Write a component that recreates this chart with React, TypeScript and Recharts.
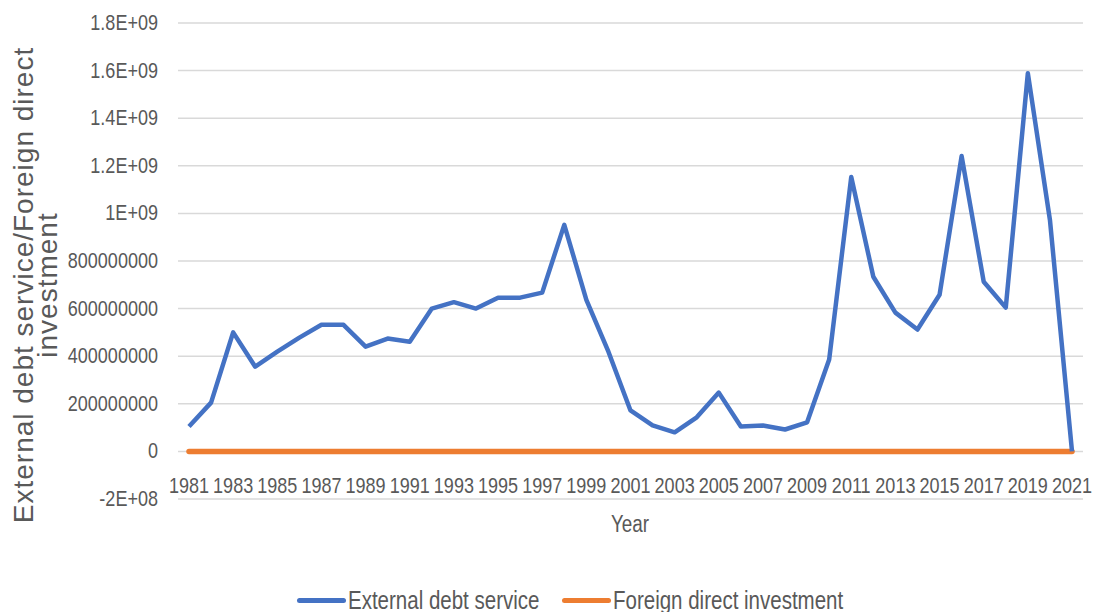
import React from 'react';
import {
  LineChart,
  Line,
  XAxis,
  YAxis,
  CartesianGrid,
  Label
} from 'recharts';

const years = [
  '1981', '1982', '1983', '1984', '1985', '1986', '1987', '1988', '1989', '1990',
  '1991', '1992', '1993', '1994', '1995', '1996', '1997', '1998', '1999', '2000',
  '2001', '2002', '2003', '2004', '2005', '2006', '2007', '2008', '2009', '2010',
  '2011', '2012', '2013', '2014', '2015', '2016', '2017', '2018', '2019', '2020',
  '2021'
];

const externalDebtService = [
  105e6, 205e6, 500e6, 356e6, 419e6, 478e6, 532e6, 532e6, 440e6, 474e6,
  461e6, 600e6, 627e6, 600e6, 646e6, 646e6, 667e6, 952e6, 637e6, 419e6,
  172e6, 109e6, 80e6, 143e6, 247e6, 105e6, 109e6, 92e6, 122e6, 386e6,
  1153e6, 734e6, 583e6, 512e6, 658e6, 1241e6, 713e6, 604e6, 1589e6, 973e6,
  0
];

const foreignDirectInvestment = [
  0, 0, 0, 0, 0, 0, 0, 0, 0, 0,
  0, 0, 0, 0, 0, 0, 0, 0, 0, 0,
  0, 0, 0, 0, 0, 0, 0, 0, 0, 0,
  0, 0, 0, 0, 0, 0, 0, 0, 0, 0,
  0
];

const yTicks = [-2e8, 0, 2e8, 4e8, 6e8, 8e8, 1e9, 1.2e9, 1.4e9, 1.6e9, 1.8e9];
const yTickLabels = [
  '-2E+08', '0', '200000000', '400000000', '600000000', '800000000',
  '1E+09', '1.2E+09', '1.4E+09', '1.6E+09', '1.8E+09'
];

const seriesNames = ['External debt service', 'Foreign direct investment'];
const seriesColors = ['#4472C4', '#ED7D31'];

const data = years.map((year, i) => ({
  year,
  debt: externalDebtService[i],
  fdi: foreignDirectInvestment[i]
}));

const sans = '"Liberation Sans", Arial, sans-serif';
const textColor = '#595959';
// the reference uses a narrow font; squeeze Liberation Sans horizontally
const squeeze = 0.82;

const XTick = (props: any) => {
  const { x, y, payload } = props;
  return (
    <text
      transform={`translate(${x},${y - 6}) scale(${squeeze},1)`}
      textAnchor="middle"
      fill={textColor}
      fontSize={22}
      fontFamily={sans}
    >
      {payload.value}
    </text>
  );
};

const YTick = (props: any) => {
  const { x, y, payload } = props;
  return (
    <text
      transform={`translate(${x},${y + 7}) scale(${squeeze},1)`}
      textAnchor="end"
      fill={textColor}
      fontSize={22}
      fontFamily={sans}
    >
      {yTickLabels[yTicks.indexOf(payload.value)]}
    </text>
  );
};

const YTitle = () => (
  <g fill={textColor} fontFamily={sans} fontSize={28} letterSpacing={1}>
    <text x={33} y={285} textAnchor="middle" transform="rotate(-90 33 285)">
      External debt service/Foreign direct
    </text>
    <text x={57} y={285} textAnchor="middle" transform="rotate(-90 57 285)">
      investment
    </text>
  </g>
);

const XTitle = () => (
  <text
    transform={`translate(630,532) scale(${squeeze},1)`}
    textAnchor="middle"
    fill={textColor}
    fontSize={23}
    fontFamily={sans}
  >
    Year
  </text>
);

const legendLeft = [297, 562];

const App: React.FC = () => {
  return (
    <div style={{ position: 'absolute', left: 0, top: 0, width: 1097, height: 612, background: '#fff', overflow: 'hidden' }}>
      <LineChart width={1097} height={612} data={data} margin={{ top: 23, right: 14, bottom: 73, left: 0 }}>
        <CartesianGrid vertical={false} stroke="#d9d9d9" strokeWidth={1.5} />
        <XAxis
          dataKey="year"
          interval={1}
          height={40}
          padding={{ left: 11, right: 11 }}
          axisLine={false}
          tickLine={false}
          tickSize={0}
          tickMargin={0}
          tick={<XTick />}
        >
          <Label content={<XTitle />} />
        </XAxis>
        <YAxis
          width={178}
          domain={[-2e8, 1.8e9]}
          ticks={yTicks}
          interval={0}
          axisLine={false}
          tickLine={false}
          tickMargin={14}
          tick={<YTick />}
        >
          <Label content={<YTitle />} />
        </YAxis>
        <Line
          type="linear"
          dataKey="fdi"
          name={seriesNames[1]}
          stroke={seriesColors[1]}
          strokeWidth={5.5}
          strokeLinecap="round"
          dot={false}
          isAnimationActive={false}
        />
        <Line
          type="linear"
          dataKey="debt"
          name={seriesNames[0]}
          stroke={seriesColors[0]}
          strokeWidth={4.5}
          strokeLinejoin="round"
          dot={false}
          isAnimationActive={false}
        />
      </LineChart>
      {seriesNames.map((name, i) => (
        <div
          key={name}
          style={{ position: 'absolute', left: legendLeft[i], top: 582, height: 36, display: 'flex', alignItems: 'center', whiteSpace: 'nowrap' }}
        >
          <span style={{ display: 'inline-block', width: 49, height: 5, borderRadius: 3, background: seriesColors[i], marginRight: 2 }} />
          <span
            style={{
              display: 'inline-block',
              fontFamily: sans,
              fontSize: 25,
              color: textColor,
              transform: `scaleX(${squeeze})`,
              transformOrigin: 'left center'
            }}
          >
            {name}
          </span>
        </div>
      ))}
    </div>
  );
};

export default App;
